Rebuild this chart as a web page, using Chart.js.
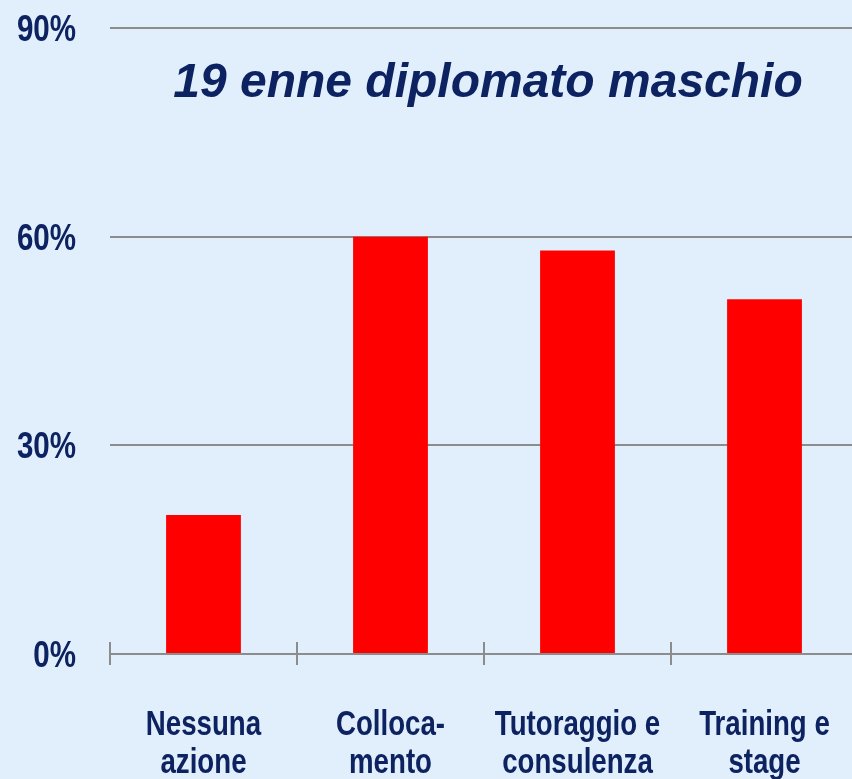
<!DOCTYPE html>
<html>
<head>
<meta charset="utf-8">
<script src="https://cdn.jsdelivr.net/npm/chart.js@4"></script>
<style>
  html, body { margin: 0; padding: 0; background: #e1effc; overflow: hidden; }
  #wrap { position: absolute; left: 0; top: 0; width: 858px; height: 779px; }
</style>
</head>
<body>
<div id="wrap"><canvas id="myChart"></canvas></div>
<script>
var categories = [['Nessuna', 'azione'], ['Colloca-', 'mento'], ['Tutoraggio e', 'consulenza'], ['Training e', 'stage']];
var values = [20, 60, 58, 51];
var yTicks = [0, 30, 60, 90];
var chartTitle = '19 enne diplomato maschio';

var navy = '#0d2260';
var gray = '#8c8c8c';
var sans = '"Liberation Sans", Arial, sans-serif';

// no narrow font installed, so squeeze the labels by hand
function narrowText(c, text, x, y, align, squeeze) {
    c.save();
    c.translate(x, y);
    c.scale(squeeze, 1);
    c.textAlign = align;
    c.fillText(text, 0, 0);
    c.restore();
}

// title inside the plot, axis labels, and the little ticks crossing the x axis
var extras = {
    id: 'extras',
    afterDraw: function (chart) {
        var c = chart.ctx;
        var area = chart.chartArea;
        var x = chart.scales.x;
        var y = chart.scales.y;
        var n = categories.length;
        var step = (x.right - x.left) / n;
        c.save();
        c.strokeStyle = gray;
        c.lineWidth = 2;
        for (var i = 0; i < n; i++) {
            var px = Math.round(x.left + i * step);
            c.beginPath();
            c.moveTo(px, area.bottom - 12);
            c.lineTo(px, area.bottom + 11);
            c.stroke();
        }
        c.fillStyle = navy;
        c.textBaseline = 'alphabetic';

        c.font = 'bold 36px ' + sans;
        yTicks.forEach(function (v) {
            narrowText(c, v + '%', 76, y.getPixelForValue(v) + 13, 'right', 0.82);
        });

        c.font = 'bold 35px ' + sans;
        categories.forEach(function (lines, i) {
            var cx = x.getPixelForValue(i);
            lines.forEach(function (t, j) {
                narrowText(c, t, cx, area.bottom + 81 + j * 38, 'center', 0.79);
            });
        });

        c.font = 'bold italic 48px ' + sans;
        c.textAlign = 'center';
        c.fillText(chartTitle, (area.left + area.right) / 2 + 4, area.top + 69);
        c.restore();
    }
};

var ctx = document.getElementById('myChart').getContext('2d');
var myChart = new Chart(ctx, {
    type: 'bar',
    data: {
        labels: categories,
        datasets: [{
            data: values,
            backgroundColor: '#ff0000',
            borderWidth: 0,
            barPercentage: 0.4,
            categoryPercentage: 1
        }]
    },
    plugins: [extras],
    options: {
        responsive: true,
        maintainAspectRatio: false,
        animation: false,
        layout: { padding: { top: 28, right: 0, bottom: 0, left: 0 } },
        plugins: {
            legend: { display: false },
            tooltip: { enabled: false }
        },
        scales: {
            x: {
                grid: { display: false },
                border: { display: true, color: gray, width: 2 },
                ticks: { display: false },
                afterFit: function (scale) {
                    scale.height = 125;
                    scale.paddingLeft = 0;
                    scale.paddingRight = 0;
                }
            },
            y: {
                min: 0,
                max: 90,
                afterBuildTicks: function (scale) {
                    scale.ticks = yTicks.map(function (v) { return { value: v }; });
                },
                grid: { color: gray, lineWidth: 2, drawTicks: false },
                border: { display: false },
                ticks: { display: false },
                afterFit: function (scale) {
                    scale.width = 110;
                    scale.paddingTop = 0;
                    scale.paddingBottom = 0;
                }
            }
        }
    }
});
</script>
</body>
</html>
